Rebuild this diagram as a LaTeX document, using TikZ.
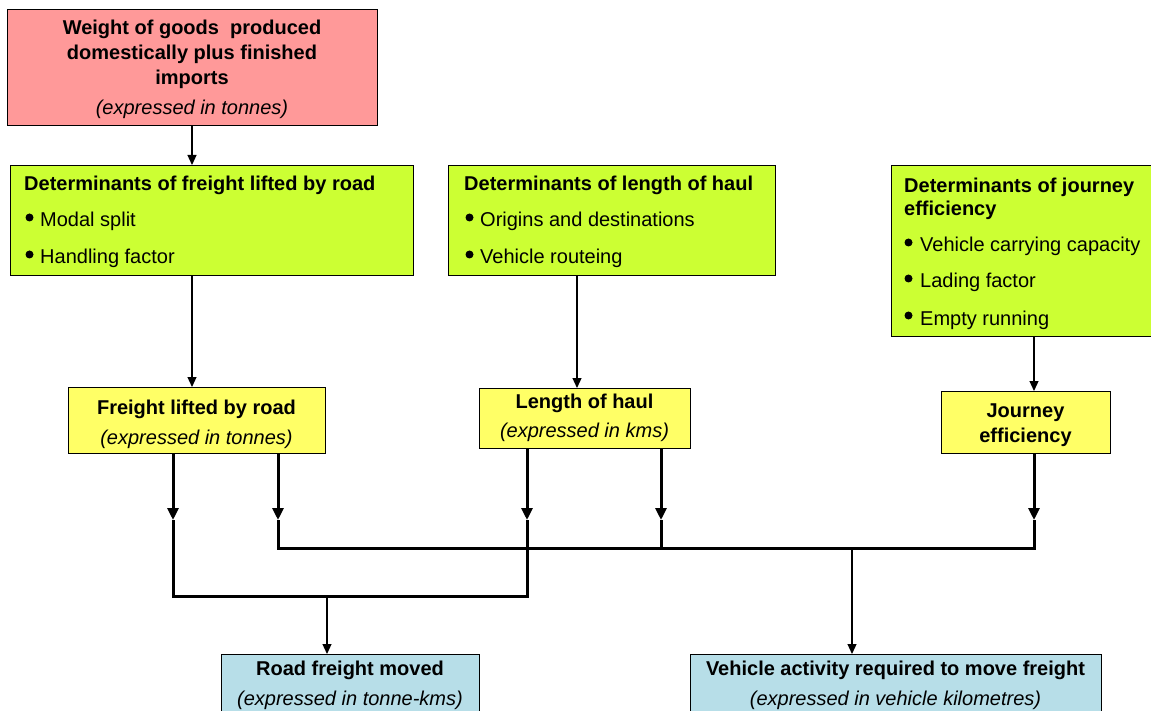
\documentclass[tikz,border=0pt]{standalone}
\usepackage{fontspec}
\setmainfont{Liberation Sans}
\usetikzlibrary{arrows.meta}
\definecolor{pinkc}{HTML}{FF9999}
\definecolor{greenc}{HTML}{CCFF33}
\definecolor{yellowc}{HTML}{FFFF66}
\definecolor{bluec}{HTML}{B7DEE8}
\begin{document}
\begin{tikzpicture}[x=1pt,y=-1pt,
  font=\fontsize{20}{23}\selectfont,
  box/.style={draw=black, line width=1pt, anchor=north west, inner sep=0pt},
  ctxt/.style={anchor=base, inner sep=0pt},
  ltxt/.style={anchor=base west, inner sep=0pt},
  bul/.style={circle, fill=black, inner sep=0pt, minimum size=8pt},
  thinarr/.style={line width=1.2pt, -{Triangle[length=10pt,width=9pt]}},
  heavy/.style={line width=3pt, line join=miter},
  heavyarr/.style={line width=3pt, -{Triangle[length=12pt 0,width=11pt 0]}}]
\useasboundingbox (0,0) rectangle (1151,711);

% boxes
\node[box, fill=pinkc,   minimum width=370pt, minimum height=116pt] (pink) at (7,9) {};
\node[box, fill=greenc,  minimum width=403pt, minimum height=110pt] (g1) at (10,165) {};
\node[box, fill=greenc,  minimum width=327pt, minimum height=110pt] (g2) at (448,165) {};
\node[box, fill=greenc,  minimum width=270pt, minimum height=171pt] (g3) at (891,165) {};
\node[box, fill=yellowc, minimum width=257pt, minimum height=66pt] (y1) at (68,387) {};
\node[box, fill=yellowc, minimum width=211pt, minimum height=60pt] (y2) at (479,388) {};
\node[box, fill=yellowc, minimum width=169pt, minimum height=62pt] (y3) at (941,391) {};
\node[box, fill=bluec,   minimum width=258pt, minimum height=70pt] (b1) at (221,654) {};
\node[box, fill=bluec,   minimum width=411pt, minimum height=70pt] (b2) at (690,654) {};

% pink text
\node[ctxt] (p1) at (192,35) {\bfseries Weight of goods~ produced};
\node[ctxt] (p2) at (192,60) {\bfseries domestically plus finished};
\node[ctxt] (p3) at (192,85) {\bfseries imports};
\node[ctxt] (p4) at (192,115) {\itshape (expressed in tonnes)};

% green box 1
\node[ltxt] (g1t) at (24,191) {\bfseries Determinants of freight lifted by road};
\node[bul] (g1b1) at (29.5,217.5) {};
\node[ltxt] (g1l1) at (40,227) {Modal split};
\node[bul] (g1b2) at (29.5,254.5) {};
\node[ltxt] (g1l2) at (40,264) {Handling factor};

% green box 2
\node[ltxt] (g2t) at (464,191) {\bfseries Determinants of length of haul};
\node[bul] (g2b1) at (469.5,217.5) {};
\node[ltxt] (g2l1) at (480,227) {Origins and destinations};
\node[bul] (g2b2) at (469.5,254.5) {};
\node[ltxt] (g2l2) at (480,264) {Vehicle routeing};

% green box 3
\node[ltxt] (g3t1) at (904,193) {\bfseries Determinants of journey};
\node[ltxt] (g3t2) at (904,216) {\bfseries efficiency};
\node[bul] (g3b1) at (908.5,242.5) {};
\node[ltxt] (g3l1) at (920,252) {Vehicle carrying capacity};
\node[bul] (g3b2) at (908.5,278.5) {};
\node[ltxt] (g3l2) at (920,288) {Lading factor};
\node[bul] (g3b3) at (908.5,315.5) {};
\node[ltxt] (g3l3) at (920,325) {Empty running};

% yellow texts
\node[ctxt] (y1a) at (196.5,414) {\bfseries Freight lifted by road};
\node[ctxt] (y1b) at (196.5,444) {\itshape (expressed in tonnes)};
\node[ctxt] (y2a) at (584.5,408) {\bfseries Length of haul};
\node[ctxt] (y2b) at (584.5,437) {\itshape (expressed in kms)};
\node[ctxt] (y3a) at (1025.5,417) {\bfseries Journey};
\node[ctxt] (y3b) at (1025.5,442) {\bfseries efficiency};

% bottom texts
\node[ctxt] (b1a) at (350,675) {\bfseries Road freight moved};
\node[ctxt] (b1b) at (350,705) {\itshape (expressed in tonne-kms)};
\node[ctxt] (b2a) at (895.5,675) {\bfseries Vehicle activity required to move freight};
\node[ctxt] (b2b) at (895.5,705) {\itshape (expressed in vehicle kilometres)};

% helper coordinates
\coordinate (xa) at (192,0);
\coordinate (xb) at (577,0);
\coordinate (xc) at (1034,0);
\coordinate (xd) at (173,0);
\coordinate (xe) at (278,0);
\coordinate (xf) at (527,0);
\coordinate (xg) at (661,0);
\coordinate (ta) at (173,520);
\coordinate (tb) at (278,520);
\coordinate (tc) at (527,520);
\coordinate (td) at (661,520);
\coordinate (te) at (1034,520);
\coordinate (j1) at (173,596);
\coordinate (j2) at (527,596);
\coordinate (jm) at (327,596);
\coordinate (k1) at (278,548);
\coordinate (k2) at (661,548);
\coordinate (k3) at (1034,548);
\coordinate (km) at (852,548);

% thin connectors
\draw[thinarr] (pink.south -| xa) -- (g1.north -| xa);
\draw[thinarr] (g1.south -| xa) -- (y1.north -| xa);
\draw[thinarr] (g2.south -| xb) -- (y2.north -| xb);
\draw[thinarr] (g3.south -| xc) -- (y3.north -| xc);

% heavy connectors
\draw[heavyarr] (y1.south -| xd) -- (ta);
\draw[heavyarr] (y1.south -| xe) -- (tb);
\draw[heavyarr] (y2.south -| xf) -- (tc);
\draw[heavyarr] (y2.south -| xg) -- (td);
\draw[heavyarr] (y3.south -| xc) -- (te);
\draw[heavy] (ta) -- (j1) -- (j2) -- (tc);
\draw[heavy] (tb) -- (k1) -- (k3) -- (te);
\draw[heavy] (td) -- (k2);

% to bottom boxes
\draw[thinarr] (jm) -- (b1.north -| jm);
\draw[thinarr] (km) -- (b2.north -| km);
\end{tikzpicture}
\end{document}
